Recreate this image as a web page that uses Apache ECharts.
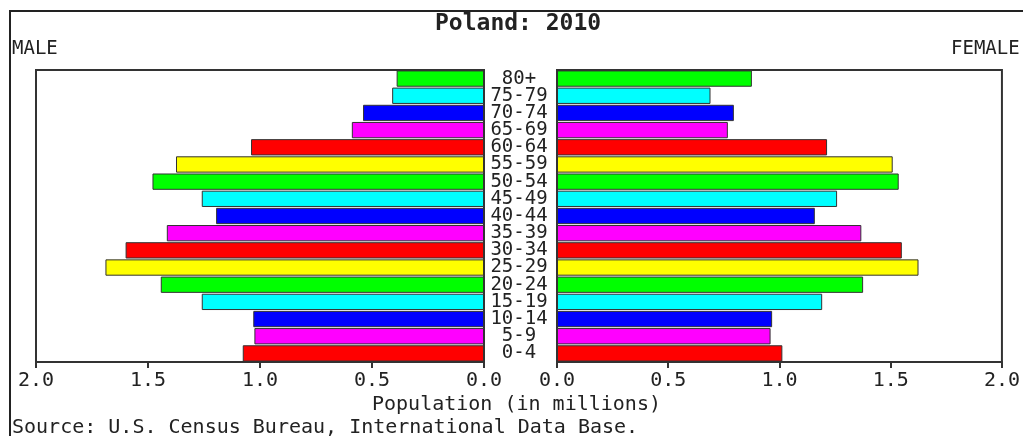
<!DOCTYPE html>
<html>
<head>
<meta charset="utf-8">
<script src="https://cdn.jsdelivr.net/npm/echarts@6/dist/echarts.min.js"></script>
<style>
  html, body { margin: 0; padding: 0; background: #fff; }
  #pyramid { width: 1023px; height: 436px; }
</style>
</head>
<body>
<div id="pyramid"></div>
<script>
// age groups, bottom to top
const ageGroups = ['0-4', '5-9', '10-14', '15-19', '20-24', '25-29', '30-34', '35-39',
  '40-44', '45-49', '50-54', '55-59', '60-64', '65-69', '70-74', '75-79', '80+']
// population in millions
const maleValues = [1.077, 1.025, 1.03, 1.26, 1.443, 1.69, 1.60, 1.416,
  1.196, 1.26, 1.48, 1.375, 1.04, 0.59, 0.54, 0.41, 0.39]
const femaleValues = [1.013, 0.96, 0.967, 1.192, 1.376, 1.625, 1.55, 1.368,
  1.159, 1.259, 1.536, 1.509, 1.214, 0.768, 0.795, 0.69, 0.876]
const xTicks = [0, 0.5, 1, 1.5, 2]

const palette = ['#ff0000', '#ff00ff', '#0000ff', '#00ffff', '#00ff00', '#ffff00']
const font = 'DejaVu Sans Mono'
const ink = '#222'

function barData(values) {
  return values.map((v, i) => ({
    value: v,
    itemStyle: { color: palette[i % palette.length] }
  }))
}

function xAxisFor(gridIndex, inverse) {
  return {
    gridIndex: gridIndex,
    type: 'value',
    inverse: inverse,
    min: xTicks[0],
    max: xTicks[xTicks.length - 1],
    interval: xTicks[1] - xTicks[0],
    splitLine: { show: false },
    axisLine: { show: true, lineStyle: { color: '#333', width: 2 } },
    axisTick: { show: true, length: 6, lineStyle: { color: '#333', width: 2 } },
    axisLabel: {
      margin: 9,
      fontFamily: font,
      fontSize: 20,
      color: ink,
      formatter: v => v.toFixed(1)
    }
  }
}

const chart = echarts.init(document.getElementById('pyramid'))
chart.setOption({
  animation: false,
  backgroundColor: '#fff',
  title: [
    { text: 'Poland: 2010', left: 435, top: 13, padding: 0,
      textStyle: { fontFamily: font, fontSize: 23, fontWeight: 'bold', color: ink } },
    { text: 'MALE', left: 12, top: 40, padding: 0,
      textStyle: { fontFamily: font, fontSize: 19, fontWeight: 'normal', color: ink } },
    { text: 'FEMALE', left: 951, top: 40, padding: 0,
      textStyle: { fontFamily: font, fontSize: 19, fontWeight: 'normal', color: ink } },
    { text: 'Population (in millions)', left: 372, top: 395, padding: 0,
      textStyle: { fontFamily: font, fontSize: 20, fontWeight: 'normal', color: ink } },
    { text: 'Source: U.S. Census Bureau, International Data Base.', left: 12, top: 418, padding: 0,
      textStyle: { fontFamily: font, fontSize: 20, fontWeight: 'normal', color: ink } }
  ],
  graphic: [
    {
      type: 'rect',
      shape: { x: 10, y: 11, width: 1040, height: 460 },
      style: { fill: 'none', stroke: '#222', lineWidth: 2 },
      silent: true
    }
  ],
  grid: [
    { left: 36, right: 539, top: 70, bottom: 74, show: true, borderColor: '#333', borderWidth: 2 },
    { left: 557, right: 18, top: 70, bottom: 74, show: true, borderColor: '#333', borderWidth: 2 }
  ],
  xAxis: [xAxisFor(0, true), xAxisFor(1, false)],
  yAxis: [
    {
      gridIndex: 0,
      type: 'category',
      data: ageGroups,
      axisLine: { show: false },
      axisTick: { show: false },
      axisLabel: { show: false }
    },
    {
      gridIndex: 1,
      type: 'category',
      data: ageGroups,
      position: 'left',
      axisLine: { show: false },
      axisTick: { show: false },
      axisLabel: {
        align: 'center',
        margin: 38,
        interval: 0,
        fontFamily: font,
        fontSize: 19,
        color: ink
      }
    }
  ],
  series: [
    {
      name: 'Male',
      type: 'bar',
      xAxisIndex: 0,
      yAxisIndex: 0,
      barCategoryGap: '5%',
      data: barData(maleValues),
      itemStyle: { borderColor: '#333', borderWidth: 1 }
    },
    {
      name: 'Female',
      type: 'bar',
      xAxisIndex: 1,
      yAxisIndex: 1,
      barCategoryGap: '5%',
      data: barData(femaleValues),
      itemStyle: { borderColor: '#333', borderWidth: 1 }
    }
  ]
})
</script>
</body>
</html>
